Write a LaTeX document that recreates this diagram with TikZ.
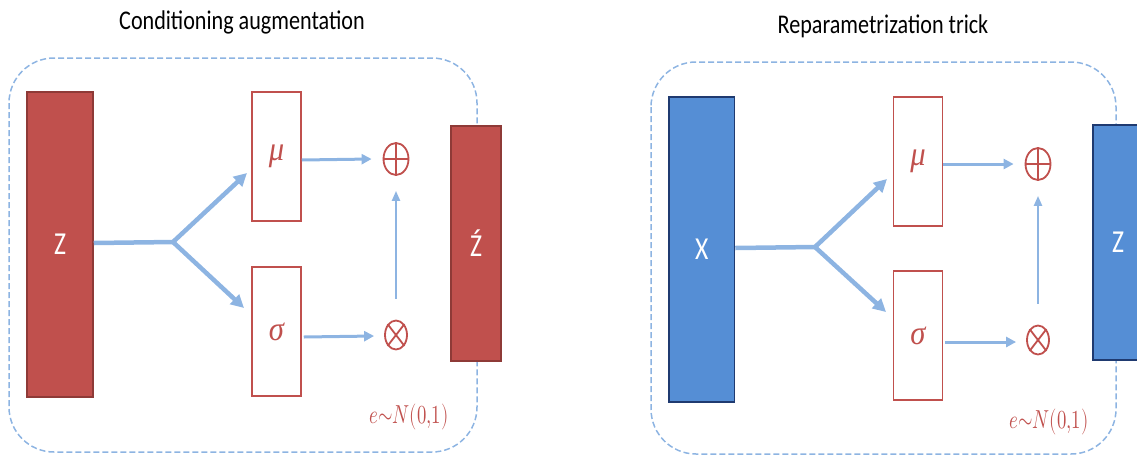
\documentclass[tikz,border=0pt]{standalone}
\usepackage{graphicx}
\usepackage{fontspec}
\usepackage{unicode-math}
\setmainfont{Carlito}
\setmathfont{Latin Modern Math}
\newfontfamily\greekserif{Liberation Serif}
\usetikzlibrary{arrows.meta,shapes.geometric,calc}
\definecolor{barred}{HTML}{C0504D}
\definecolor{barredborder}{HTML}{8E3A37}
\definecolor{barblue}{HTML}{558ED5}
\definecolor{barblueborder}{HTML}{1F3A70}
\definecolor{arrowblue}{HTML}{8DB4E2}
\definecolor{mathred}{HTML}{C0504D}
\newcommand{\squeezetext}[2]{\scalebox{#1}[1]{#2}}
\begin{document}
\begin{tikzpicture}[x=1pt,y=-1pt,
  redbar/.style={rectangle, fill=barred, draw=barredborder, line width=1.5pt, inner sep=0pt, text=white, font=\fontsize{32}{32}\selectfont},
  bluebar/.style={rectangle, fill=barblue, draw=barblueborder, line width=1.5pt, inner sep=0pt, text=white, font=\fontsize{32}{32}\selectfont},
  param/.style={rectangle, draw=barred, line width=1.5pt, fill=white, inner sep=0pt, minimum width=49pt, minimum height=129pt, text=mathred, font=\greekserif\itshape\fontsize{34}{34}\selectfont},
  opnode/.style={ellipse, draw=mathred, line width=1.8pt, inner sep=0pt},
  groupbox/.style={draw=arrowblue, line width=1.5pt, dash pattern=on 6pt off 3pt, rounded corners=45pt},
  trunk/.style={draw=arrowblue, line width=4.5pt, line cap=butt, line join=round},
  thickarrow/.style={draw=arrowblue, line width=4.5pt, -{Triangle[length=13pt,width=13pt]}},
  midarrow/.style={draw=arrowblue, line width=3pt, -{Triangle[length=10pt,width=10pt]}},
  thinarrow/.style={draw=arrowblue, line width=2.2pt, -{Triangle[length=10pt,width=8pt]}},
  titletext/.style={font=\fontsize{27}{27}\selectfont, text=black},
  noise/.style={text=mathred, font=\fontsize{26}{26}\selectfont}
]
\useasboundingbox (0,0) rectangle (1137,456);
\clip (0,0) rectangle (1137,456);

% ---------- Left: Conditioning augmentation ----------
\node[titletext] (titleL) at (242,22) {\squeezetext{0.82}{Conditioning augmentation}};
\draw[groupbox] (9,58) rectangle (477,452);

\node[redbar, minimum width=66pt, minimum height=305pt] (zL) at (60,244.5) {\squeezetext{0.8}{Z}};
\node[param] (muL) at (276.5,156.5) {\squeezetext{0.9}{μ}};
\node[param] (sigL) at (276.5,331.5) {\squeezetext{0.9}{σ}};
\node[opnode, minimum width=25pt, minimum height=32pt] (plusL) at (396,159) {};
\draw[mathred, line width=1.8pt] (plusL.north) -- (plusL.south) (plusL.west) -- (plusL.east);
\node[opnode, minimum width=22pt, minimum height=29pt] (timesL) at (396,335) {};
\draw[mathred, line width=1.8pt] (timesL.north east) -- (timesL.south west) (timesL.north west) -- (timesL.south east);
\node[redbar, minimum width=50pt, minimum height=235pt] (zpL) at (476,243.5) {\squeezetext{0.8}{Ź}};

\coordinate (splitL) at (173,242);
\coordinate (muInL) at (247,173);
\coordinate (sigInL) at (244,308);
\draw[trunk] (zL.east |- 0,243) -- (splitL);
\draw[thickarrow] (splitL) -- (muInL);
\draw[thickarrow] (splitL) -- (sigInL);
\draw[midarrow] (muL.east |- 0,160) -- ($(plusL.west)+(-11,0)$);
\draw[midarrow] ($(sigL.east |- 0,337)+(2,0)$) -- ($(timesL.west)+(-10,1)$);
\draw[thinarrow] ($(timesL.north)+(0,-21)$) -- ($(plusL.south)+(0,15)$);
\node[noise] (noiseL) at (409,417) {\squeezetext{0.72}{$e{\sim}N(0{,}1)$}};

% ---------- Right: Reparametrization trick ----------
\node[titletext] (titleR) at (883,26) {\squeezetext{0.82}{Reparametrization trick}};
\draw[groupbox] (651,62) rectangle (1116,454);

\node[bluebar, minimum width=65.5pt, minimum height=305pt] (xR) at (701.75,249.5) {\squeezetext{0.8}{X}};
\node[param] (muR) at (918,161.5) {\squeezetext{0.9}{μ}};
\node[param] (sigR) at (918,335.5) {\squeezetext{0.9}{σ}};
\node[opnode, minimum width=25pt, minimum height=32pt] (plusR) at (1038,164) {};
\draw[mathred, line width=1.8pt] (plusR.north) -- (plusR.south) (plusR.west) -- (plusR.east);
\node[opnode, minimum width=22pt, minimum height=29pt] (timesR) at (1038,340) {};
\draw[mathred, line width=1.8pt] (timesR.north east) -- (timesR.south west) (timesR.north west) -- (timesR.south east);
\node[bluebar, minimum width=50pt, minimum height=235pt] (zR) at (1118,242.5) {\squeezetext{0.8}{Z}};

\coordinate (splitR) at (815,247);
\coordinate (muInR) at (887,179);
\coordinate (sigInR) at (886,312);
\draw[trunk] (xR.east |- 0,248) -- (splitR);
\draw[thickarrow] (splitR) -- (muInR);
\draw[thickarrow] (splitR) -- (sigInR);
\draw[midarrow] (muR.east |- 0,164) -- ($(plusR.west)+(-11,0)$);
\draw[midarrow] ($(sigR.east |- 0,342)+(2,0)$) -- ($(timesR.west)+(-10,2)$);
\draw[thinarrow] ($(timesR.north)+(0,-21)$) -- ($(plusR.south)+(0,15)$);
\node[noise] (noiseR) at (1049,422) {\squeezetext{0.72}{$e{\sim}N(0{,}1)$}};
\end{tikzpicture}
\end{document}
